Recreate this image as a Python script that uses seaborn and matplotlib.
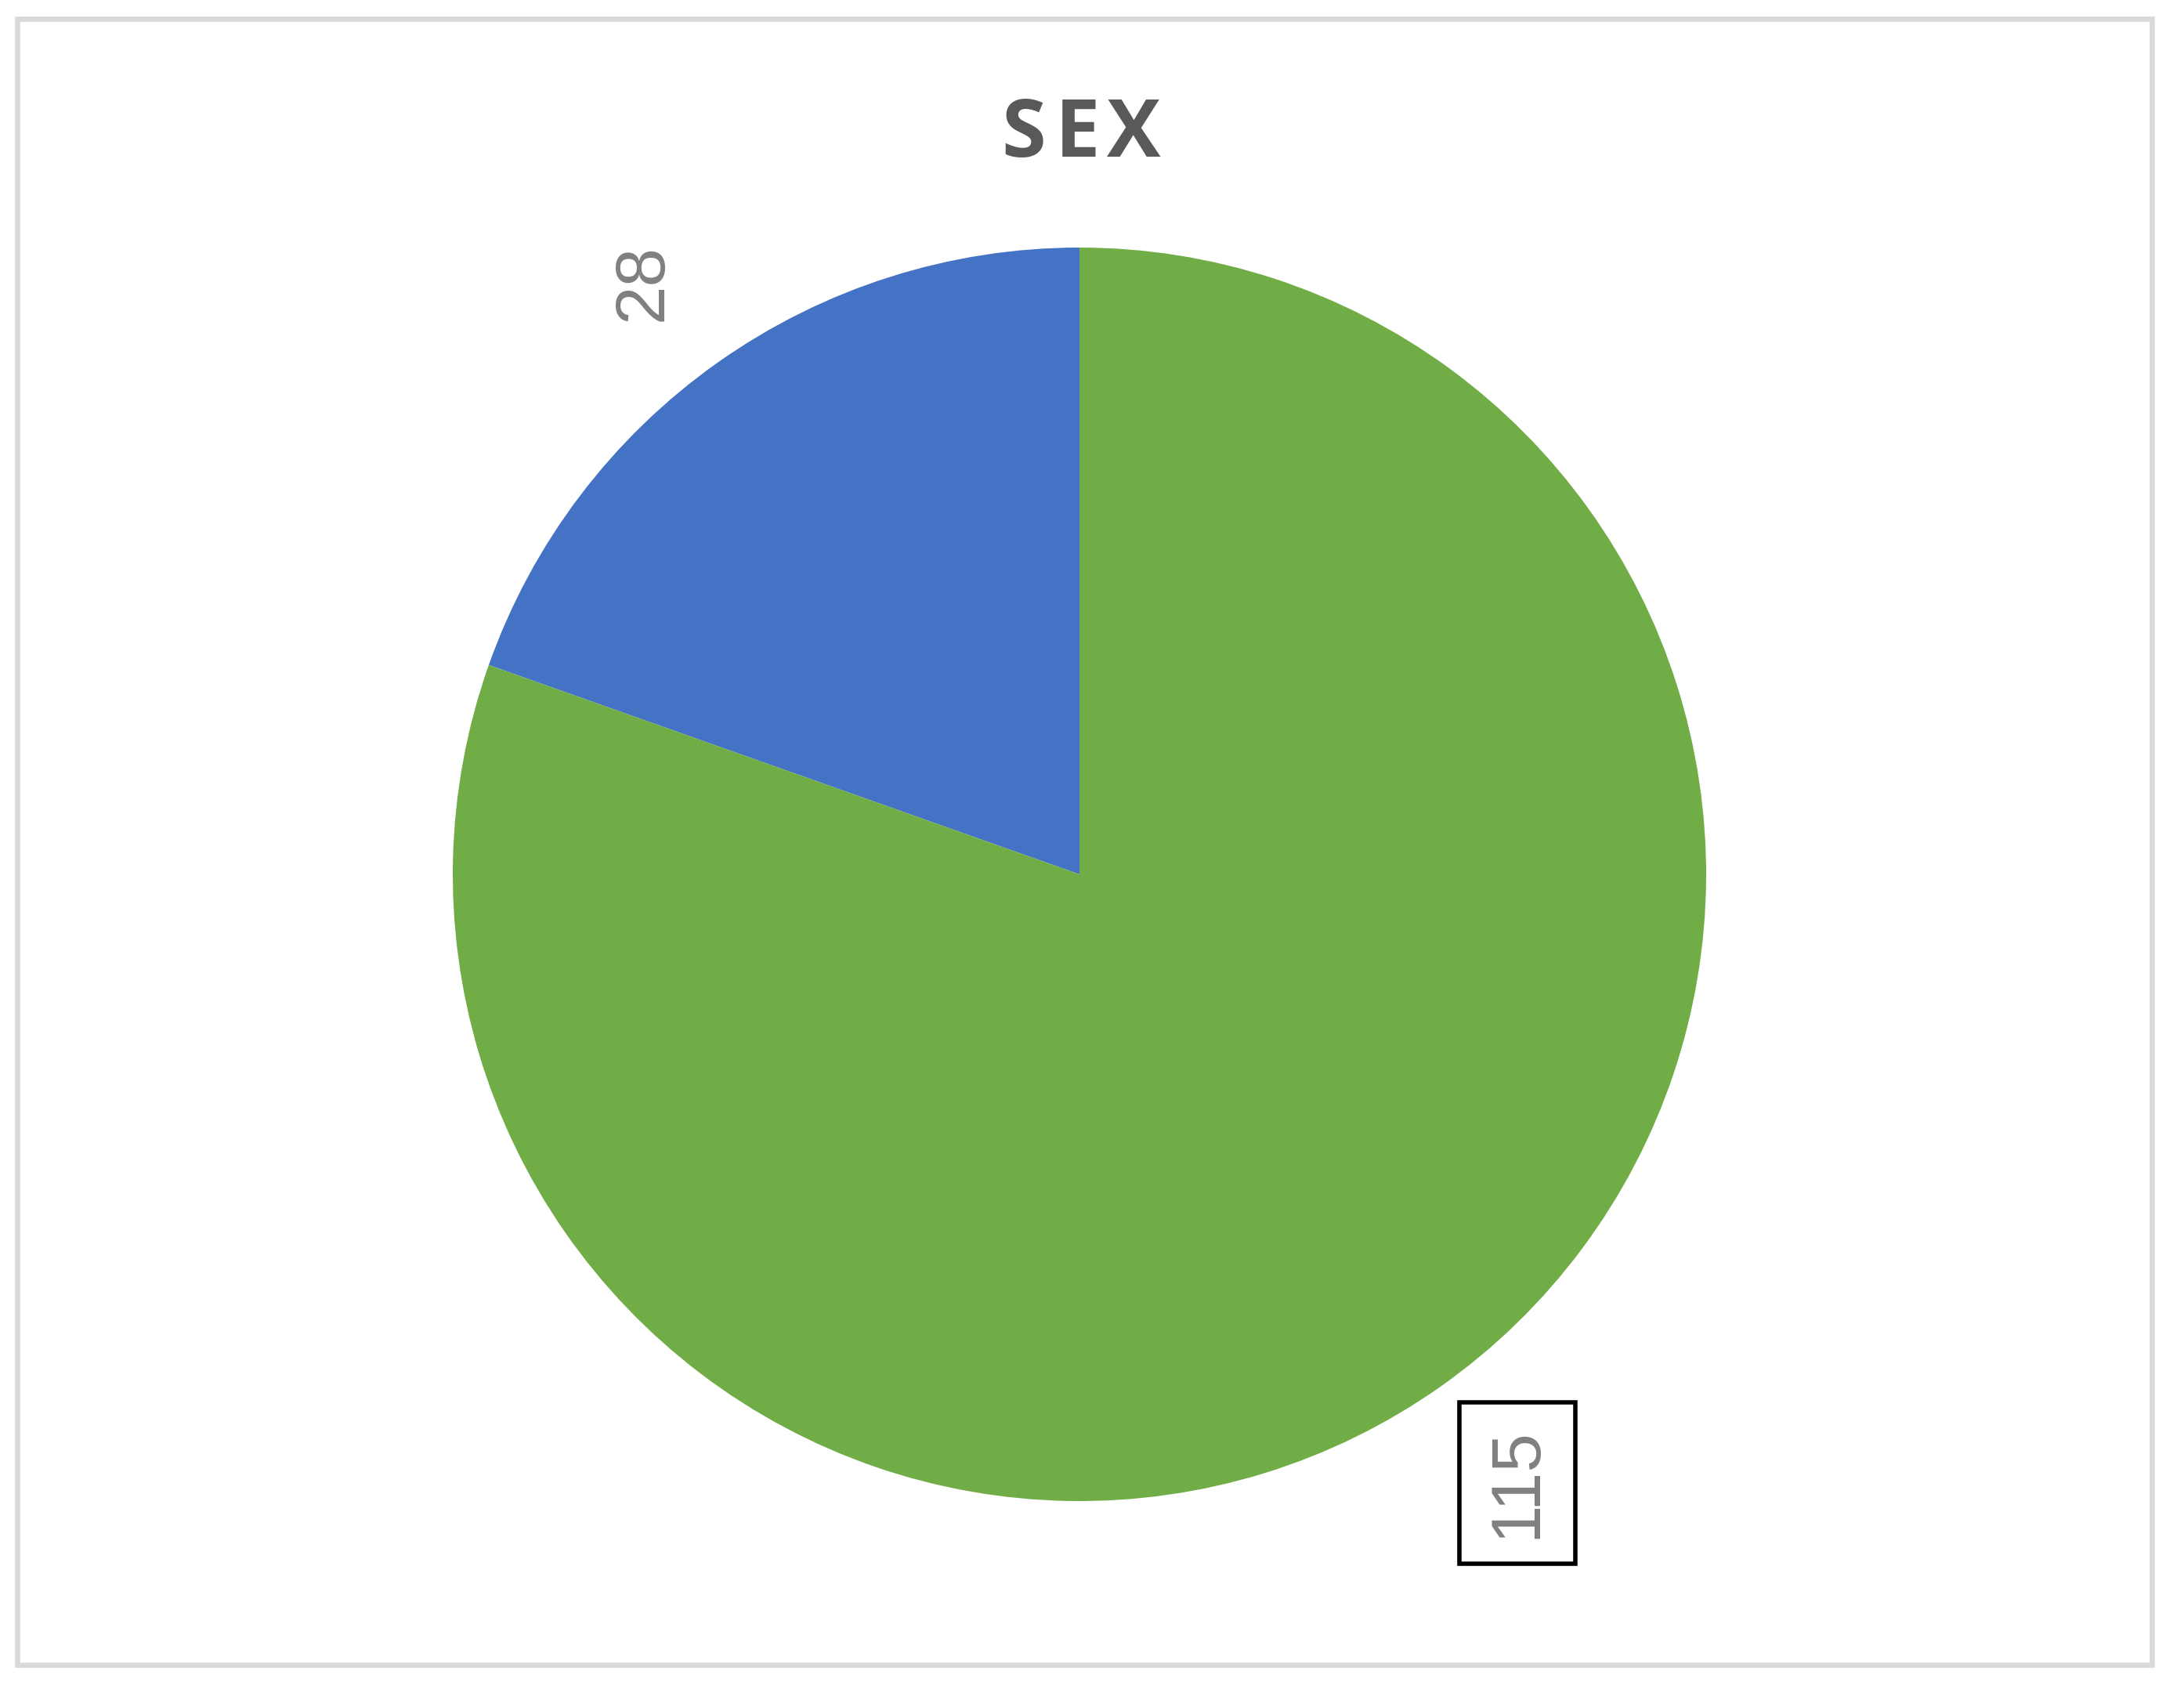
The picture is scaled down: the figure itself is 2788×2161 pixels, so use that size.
import matplotlib
matplotlib.use("Agg")
import matplotlib.pyplot as plt
import seaborn as sns
from matplotlib.patches import Rectangle

# Data
categories = ["Female", "Male"]
counts = [28, 115]
colors = ["#4472C4", "#70AD47"]

sns.set_theme(style="white")
plt.rcParams["font.family"] = ["Liberation Sans", "DejaVu Sans"]

W, H, DPI = 2788, 2161, 200
fig = plt.figure(figsize=(W / DPI, H / DPI), dpi=DPI)
fig.patch.set_facecolor("white")

# pie axes: centre (1378, 1116) px, radius 800 px
cx, cy, r = 1378, 1116, 800
ax = fig.add_axes([(cx - r) / W, (H - cy - r) / H, 2 * r / W, 2 * r / H])
ax.pie(counts, colors=sns.color_palette(colors), startangle=90,
       counterclock=True, radius=1,
       wedgeprops=dict(linewidth=0))
ax.set_xlim(-1, 1)
ax.set_ylim(-1, 1)
ax.set_aspect("equal")
ax.axis("off")

# data labels, rotated as in the original
ax.text(-0.695, 0.945, str(counts[0]), rotation=90, ha="center", va="center",
        fontsize=32, color="#808080")
ax.text(0.699, -0.971, str(counts[1]), rotation=90, ha="center", va="center",
        fontsize=32, color="#808080",
        bbox=dict(boxstyle="square,pad=0.36", facecolor="white",
                  edgecolor="black", linewidth=2.0))

# title with wide letter spacing
for letter, px in zip("SEX", [1307, 1376, 1447]):
    fig.text(px / W, 1 - 200 / H, letter, ha="center", va="baseline",
             fontsize=37, fontweight="bold", color="#595959",
             family=["Open Sans", "DejaVu Sans"])

# chart border
fig.add_artist(Rectangle((21.5 / W, 1 - 2125 / H), (2747 - 21.5) / W, (2125 - 24) / H,
                         transform=fig.transFigure, fill=False,
                         edgecolor="#D9D9D9", linewidth=2.4))

fig.savefig("out.png", dpi=DPI, facecolor="white")
plt.close(fig)
